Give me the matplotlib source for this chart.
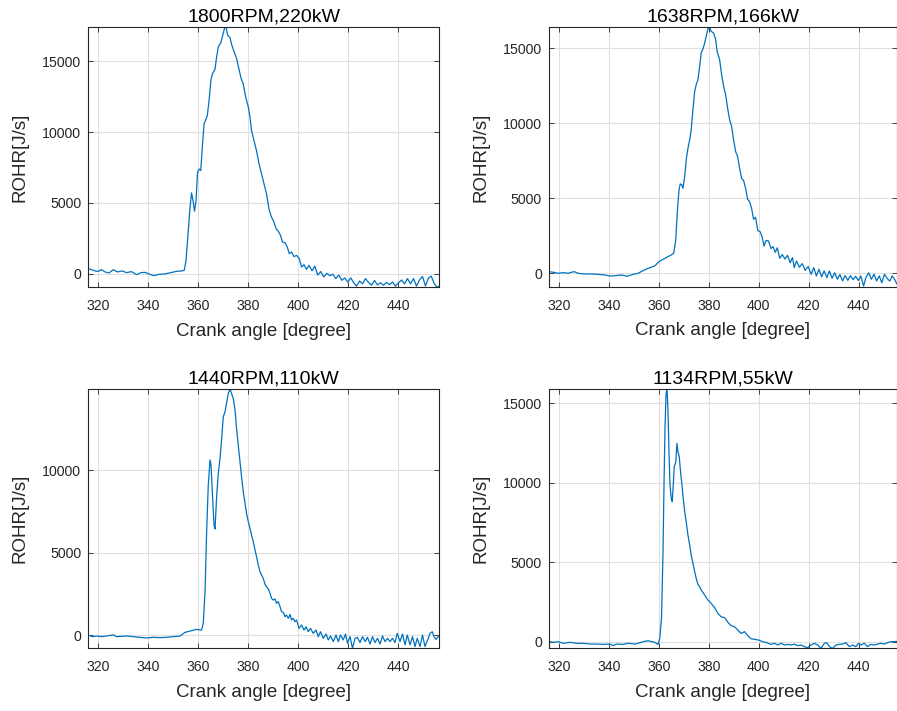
import matplotlib
matplotlib.use("Agg")
import matplotlib.pyplot as plt

# ---------------- data ----------------
titles = ["1800RPM,220kW", "1638RPM,166kW", "1440RPM,110kW", "1134RPM,55kW"]
xlabel_text = "Crank angle [degree]"
ylabel_text = "ROHR[J/s]"
xticks = [320, 340, 360, 380, 400, 420, 440]
yticks_list = [[0, 5000, 10000, 15000], [0, 5000, 10000, 15000],
               [0, 5000, 10000], [0, 5000, 10000, 15000]]

ang1 = [316.0, 317.3, 318.7, 320.0, 321.3, 322.7, 324.3, 326.0, 327.7, 329.6, 331.3, 333.3,
        335.3, 337.1, 338.7, 340.7, 342.4, 344.3, 346.7, 349.1, 351.3, 353.3, 354.4, 355.1,
        355.9, 356.7, 357.3, 358.0, 358.5, 359.1, 359.7, 360.4, 361.0, 361.6, 362.3, 363.1,
        363.6, 364.3, 365.1, 365.7, 366.7, 367.3, 368.0, 369.0, 369.7, 370.5, 370.9, 371.3,
        371.7, 372.7, 373.3, 374.3, 375.3, 376.3, 377.1, 378.0, 379.0, 380.0, 380.7, 381.3,
        382.3, 383.3, 384.3, 385.3, 386.3, 387.3, 388.4, 389.3, 390.3, 391.1, 392.0, 392.9,
        393.7, 394.7, 395.6, 396.4, 397.3, 398.3, 399.3, 400.4, 401.3, 402.3, 403.3, 404.3,
        405.5, 406.6, 407.8, 409.0, 410.2, 411.4, 412.6, 413.8, 415.0, 416.2, 417.4, 418.6,
        419.8, 421.0, 422.2, 423.3, 424.5, 425.7, 426.9, 428.1, 429.3, 430.5, 431.7, 432.9,
        434.1, 435.3, 436.5, 437.7, 438.9, 440.1, 441.3, 442.5, 443.7, 444.9, 446.1, 447.3,
        448.5, 449.7, 450.9, 452.1, 453.2, 454.4, 455.4, 456.4]
rohr1 = [350, 280, 190, 160, 280, 120, 50, 280, 120, 190, 70, 140,
         -70, 70, 90, -50, -140, -50, -20, 70, 160, 190, 240, 940,
         2820, 4690, 5700, 5050, 4410, 5160, 7160, 7390, 7280, 8920, 10560, 10910,
         11150, 12200, 13730, 14130, 14430, 15260, 16010, 16310, 16780, 17320, 17450, 17250,
         16850, 16660, 16190, 15680, 15210, 14430, 13800, 13380, 12440, 11780, 11030, 10090,
         9390, 8680, 7750, 7040, 6340, 5630, 4460, 3990, 3640, 3170, 3000, 2700,
         2230, 2180, 1880, 1410, 1530, 1200, 1290, 1060, 470, 630, 300, 590,
         200, 530, -100, 150, -230, 20, -150, -40, -350, -100, -470, -300,
         -600, -300, -650, -880, -520, -720, -350, -620, -820, -480, -800, -650,
         -820, -620, -780, -600, -880, -650, -450, -720, -350, -720, -350, -880,
         -450, -200, -870, -300, -180, -700, -940, -900]

ang2 = [315.9, 317.6, 319.6, 321.6, 323.6, 324.9, 326.0, 327.6, 330.3, 332.9, 335.6, 338.3,
        340.3, 342.3, 344.9, 347.3, 349.2, 351.6, 353.6, 355.6, 358.3, 360.0, 361.6, 363.6,
        364.9, 365.9, 366.7, 367.3, 368.0, 368.5, 369.1, 369.6, 370.3, 370.9, 371.6, 372.3,
        372.9, 373.6, 374.3, 374.9, 375.6, 376.3, 376.9, 377.6, 378.3, 378.9, 379.6, 380.3,
        380.9, 381.9, 382.7, 383.3, 384.3, 385.1, 385.9, 386.7, 387.5, 388.3, 389.1, 389.9,
        390.7, 391.5, 392.3, 393.1, 393.9, 394.7, 395.5, 396.3, 397.1, 397.9, 398.7, 399.6,
        400.5, 401.3, 402.1, 402.9, 403.9, 404.9, 405.7, 406.6, 407.4, 408.4, 409.4, 410.5,
        411.5, 412.6, 413.5, 414.2, 415.1, 416.3, 417.4, 418.6, 419.8, 421.0, 422.0, 423.1,
        424.1, 425.2, 426.2, 427.3, 428.3, 429.4, 430.4, 431.5, 432.5, 433.6, 434.6, 435.7,
        436.7, 437.8, 438.8, 439.9, 440.9, 442.0, 443.0, 444.1, 445.1, 446.2, 447.2, 448.3,
        449.3, 450.4, 451.4, 452.5, 453.5, 454.6, 455.3]
rohr2 = [110, 70, 0, 45, 0, 70, 110, 0, -45, -45, -70, -110,
         -180, -160, -110, -200, -90, 0, 180, 330, 490, 780, 930, 1110,
         1220, 1340, 2220, 4000, 5560, 5960, 5900, 5670, 6450, 7570, 8340, 8900,
         9570, 10900, 12130, 12570, 12900, 13800, 14690, 14950, 15350, 15800, 16290, 16400,
         16130, 16020, 15580, 14800, 14240, 13240, 12460, 11900, 11010, 10240, 9790, 8900,
         8120, 7790, 7010, 6340, 6190, 5670, 4940, 4780, 4340, 3600, 3740, 2850,
         2780, 2450, 1820, 2180, 2160, 1650, 1780, 1400, 1700, 1000, 1250, 950,
         1200, 700, 1050, 380, 820, 400, 650, 200, 450, -70, 380, -180,
         270, -240, 160, -290, 160, -330, 40, -400, -80, -510, -150, -470,
         -150, -420, -200, -480, -180, -850, -250, 30, -400, -60, -510, -170,
         -630, -60, -330, -520, -170, -450, -700]

ang3 = [316.0, 317.6, 319.3, 321.3, 323.3, 326.0, 327.3, 329.3, 331.3, 334.0, 336.7, 339.3,
        342.0, 344.7, 347.3, 350.0, 352.7, 354.7, 357.3, 359.3, 361.3, 362.0, 362.7, 363.3,
        364.0, 364.7, 365.1, 365.6, 366.3, 366.7, 367.3, 368.0, 368.7, 369.3, 370.0, 370.7,
        371.3, 372.0, 372.7, 373.3, 374.0, 374.7, 375.3, 376.0, 376.7, 377.3, 378.0, 378.7,
        379.3, 380.0, 380.7, 381.3, 382.0, 382.7, 383.3, 384.0, 384.7, 385.3, 386.0, 386.7,
        387.3, 388.0, 388.7, 389.3, 390.0, 390.7, 391.3, 392.0, 392.7, 393.3, 394.0, 394.7,
        395.3, 396.0, 396.7, 397.3, 398.0, 398.7, 399.3, 400.3, 401.3, 402.3, 403.1, 404.0,
        404.9, 406.0, 407.1, 408.0, 408.9, 410.0, 411.1, 412.0, 412.9, 414.0, 415.1, 416.0,
        416.9, 418.0, 418.9, 419.7, 420.7, 421.7, 422.7, 423.6, 424.7, 425.7, 426.8, 427.7,
        428.7, 429.7, 430.7, 431.7, 432.7, 433.7, 434.7, 435.7, 436.7, 437.7, 438.7, 439.6,
        440.7, 441.7, 442.7, 443.6, 444.7, 445.7, 446.7, 447.6, 448.7, 449.7, 450.7, 452.0,
        452.7, 453.6, 454.3, 455.1, 456.0, 456.3]
rohr3 = [0, -100, -60, -100, -60, 10, -100, -80, -60, -100, -140, -180,
         -140, -160, -140, -100, -60, 160, 260, 340, 300, 710, 2630, 6060,
         9090, 10610, 10300, 8690, 6670, 6420, 8280, 9800, 10710, 11820, 13230, 13530,
         14040, 14650, 14900, 14650, 14340, 13640, 12520, 11510, 10500, 9600, 8690, 7980,
         7370, 6870, 6460, 6060, 5660, 5150, 4750, 4240, 3840, 3640, 3430, 3070,
         2930, 2790, 2530, 2220, 2120, 2180, 1920, 2020, 1720, 1410, 1370, 1110,
         1210, 1010, 1250, 910, 1010, 810, 910, 400, 610, 300, 500, 200,
         400, 100, 300, -100, 200, -200, 60, -300, -60, -400, 0, -400,
         0, -300, 60, -500, -100, -800, -200, -140, -460, -100, -400, -140,
         -550, -100, -460, -200, -550, -60, -400, -200, -400, -200, -460, 100,
         -400, 60, -600, 0, -600, -100, -700, -200, -700, 0, -700, -200,
         100, 200, -100, -260, -100, -60]

ang4 = [315.9, 317.6, 319.6, 321.6, 324.3, 326.9, 329.6, 332.3, 334.9, 337.6, 340.3, 341.6,
        342.9, 345.6, 347.6, 350.6, 351.6, 353.6, 355.6, 357.2, 358.3, 359.6, 360.3, 361.0,
        361.6, 362.0, 362.4, 362.8, 363.2, 363.6, 364.0, 364.4, 364.9, 365.3, 365.7, 366.1,
        366.7, 367.2, 367.6, 368.1, 368.7, 369.2, 369.7, 370.3, 370.9, 371.6, 372.3, 372.9,
        373.6, 374.3, 374.9, 375.6, 376.3, 376.9, 378.3, 379.6, 380.9, 382.3, 383.6, 384.9,
        386.3, 387.6, 388.9, 390.3, 391.6, 392.9, 394.3, 395.6, 396.9, 398.3, 400.0, 401.6,
        403.2, 404.9, 406.3, 407.6, 408.9, 410.3, 411.6, 412.9, 414.3, 415.6, 416.9, 418.3,
        419.6, 420.9, 422.3, 423.6, 424.9, 426.3, 427.2, 428.3, 429.6, 430.9, 432.3, 433.6,
        434.9, 436.3, 437.6, 438.9, 440.0, 441.0, 442.3, 443.6, 444.9, 446.3, 447.6, 448.9,
        450.3, 451.6, 452.9, 454.3, 455.3]
rohr4 = [0, -40, 0, -100, -40, -100, -100, -150, -150, -170, -150, -250,
         -150, -170, -100, -150, -100, 0, 60, 0, -40, -170, 210, 1470,
         5660, 9860, 13430, 15530, 16000, 14480, 11960, 9860, 9020, 8810, 9860, 11010,
         11290, 12480, 11960, 11640, 10590, 9860, 9020, 8180, 7550, 6710, 6080, 5450,
         4930, 4410, 3990, 3610, 3460, 3250, 2940, 2620, 2410, 2140, 1780, 1570,
         1510, 1220, 1010, 940, 730, 520, 630, 380, 180, 150, 100, 0,
         -60, -170, -100, -210, -100, -210, -170, -210, -150, -250, -210, -310,
         -380, -210, -100, -210, -420, -100, -60, -310, -420, -210, -170, -150,
         -60, -310, -210, -310, -100, -210, -100, -310, -170, -210, -150, -100,
         -150, -60, 0, 0, 20]

angles = [ang1, ang2, ang3, ang4]
rohrs = [rohr1, rohr2, rohr3, rohr4]
xlims = [(316.0, 456.3), (315.9, 455.2), (316.0, 456.3), (315.9, 455.2)]
ylims = [(-944, 17415), (-893, 16400), (-806, 14891), (-416, 15882)]

# ---------------- layout (pixels) ----------------
W, H = 897, 711
boxes = [(88.3, 27.0, 439.0, 287.0), (549.0, 27.3, 896.5, 286.7),
         (88.3, 389.3, 439.0, 648.3), (549.0, 389.3, 896.5, 648.3)]

plt.rcParams['font.family'] = ['Liberation Sans', 'DejaVu Sans']
fig = plt.figure(figsize=(W / 100, H / 100), dpi=100)
fig.patch.set_facecolor('white')

dark = '#262626'
for i in range(4):
    l, t, r, b = boxes[i]
    ax = fig.add_axes([l / W, 1 - b / H, (r - l) / W, (b - t) / H])
    ax.plot(angles[i], rohrs[i], color='#0072BD', lw=0.9)
    ax.set_xlim(*xlims[i])
    ax.set_ylim(*ylims[i])
    ax.set_xticks(xticks)
    ax.set_yticks(yticks_list[i])
    ax.grid(True, color='#dfdfdf', lw=0.8)
    ax.set_axisbelow(True)
    for s in ax.spines.values():
        s.set_color(dark)
        s.set_linewidth(0.8)
    ax.tick_params(direction='in', length=3.5, width=0.6, colors=dark,
                   labelsize=10.2, top=True, right=True)
    ax.tick_params(axis='x', pad=8.5)
    ax.tick_params(axis='y', pad=5)
    ax.set_title(titles[i], fontsize=14, color='black', pad=4)
    ax.set_xlabel(xlabel_text, fontsize=13.5, color=dark, labelpad=7)
    ax.set_ylabel(ylabel_text, fontsize=13.5, color=dark, labelpad=10)

fig.savefig('out.png', dpi=100, facecolor='white')
